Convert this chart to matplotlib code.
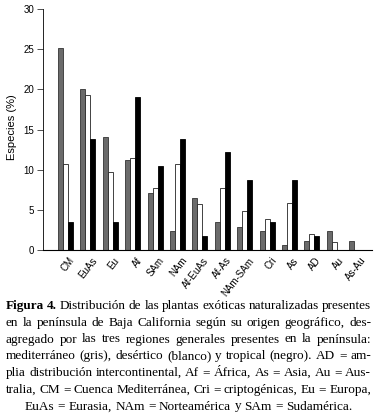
import numpy as np
import matplotlib
matplotlib.use('Agg')
import matplotlib.pyplot as plt

plt.rcParams.update({
    'font.family': 'Liberation Sans',
    'font.size': 7,
})

# Origin categories
categories = ['CM', 'EuAs', 'Eu', 'Af', 'SAm', 'NAm', 'Af-EuAs', 'Af-As',
              'NAm-SAm', 'Cri', 'As', 'AD', 'Au', 'As-Au']

# Percentage of species per region
mediterraneo = [25.2, 20.0, 14.1, 11.2, 7.06, 2.37, 6.43, 3.49, 2.9, 2.37, 0.58, 1.12, 2.37, 1.12]
desertico = [10.67, 19.3, 9.67, 11.5, 7.68, 10.67, 5.77, 7.68, 4.86, 3.86, 5.81, 1.95, 0.96, 0.0]
tropical = [3.45, 13.8, 3.45, 19.05, 10.4, 13.8, 1.7, 12.2, 8.68, 3.45, 8.68, 1.7, 0.0, 0.0]

yticks = [0, 5, 10, 15, 20, 25, 30]

caption = [
    [('Figura', True), ('4.', True), ('Distribución', False), ('de', False), ('las', False),
     ('plantas', False), ('exóticas', False), ('naturalizadas', False), ('presentes', False)],
    'en la península de Baja California según su origen geográfico, des-',
    'agregado por las tres regiones generales presentes en la península:',
    'mediterráneo (gris), desértico (blanco) y tropical (negro). AD = am-',
    'plia distribución intercontinental, Af = África, As = Asia, Au = Aus-',
    'tralia, CM = Cuenca Mediterránea, Cri = criptogénicas, Eu = Europa,',
    'EuAs = Eurasia, NAm = Norteamérica y SAm = Sudamérica.',
]

W, H = 377, 420
fig = plt.figure(figsize=(W / 100, H / 100), dpi=100)
ax = fig.add_axes([43 / W, 170 / H, (372 - 43) / W, (411 - 170) / H])

x = np.arange(len(categories))
w = 0.223
ax.bar(x - w, mediterraneo, w, color='#6b6b6b', edgecolor='#333333', linewidth=0.6)
ax.bar(x, desertico, w, color='white', edgecolor='#222222', linewidth=0.6)
ax.bar(x + w, tropical, w, color='black', edgecolor='black', linewidth=0.6)

ax.set_xlim(-1.0, 13.68)
ax.set_ylim(0, 30)
ax.set_yticks(yticks)
ax.set_xticks(x + 0.15)
ax.set_xticklabels(categories, rotation=52, ha='right', va='top',
                   rotation_mode='anchor')
ax.tick_params(axis='x', length=0, pad=4)
ax.tick_params(axis='y', length=4, width=0.6, pad=2.5, color='#333333')
ax.spines['top'].set_visible(False)
ax.spines['right'].set_visible(False)
ax.spines['left'].set_linewidth(0.6)
ax.spines['bottom'].set_linewidth(0.8)

fig.text(12 / W, 1 - 127 / H, 'Especies (%)', rotation=90, ha='center',
         va='center', fontsize=8)

# Justified caption below the chart
fig.canvas.draw()
r = fig.canvas.get_renderer()
cap_kw = dict(family='Liberation Serif', va='baseline', ha='left')


def words_of(line):
    if isinstance(line, str):
        return [(t, False) for t in line.split()]
    return line


def measure(parts, size):
    ts = [fig.text(0, 0, t, fontsize=size, fontweight='bold' if b else 'normal', **cap_kw)
          for t, b in parts]
    ws = [t.get_window_extent(r).width for t in ts]
    for t in ts:
        t.remove()
    return ws


x0, x1 = 6, 371
base = 10
sp = measure([('a a', False)], base)[0] - measure([('aa', False)], base)[0]
fit = []
for line in caption[:-1]:
    ws = measure(words_of(line), base)
    fit.append(base * (x1 - x0) / (sum(ws) + sp * (len(ws) - 1) * 0.85))
size = min(fit)

y0, dy = 309, 16.75
for k, line in enumerate(caption):
    parts = words_of(line)
    ws = measure(parts, size)
    yb = 1 - (y0 + k * dy) / H
    if k == len(caption) - 1:
        gap = sp * size / base
        total = sum(ws) + gap * (len(ws) - 1)
        px = (x0 + x1) / 2 - total / 2
    else:
        gap = (x1 - x0 - sum(ws)) / (len(ws) - 1)
        px = x0
    for (t, b), wd in zip(parts, ws):
        fig.text(px / W, yb, t, fontsize=size,
                 fontweight='bold' if b else 'normal', **cap_kw)
        px += wd + gap

fig.savefig('out.png', dpi=100)
